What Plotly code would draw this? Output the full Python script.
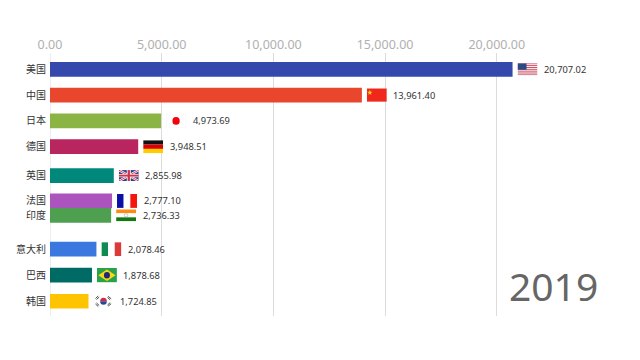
import base64
import plotly.graph_objects as go

countries = ["美国", "中国", "日本", "德国", "英国", "法国", "印度", "意大利", "巴西", "韩国"]
gdp = [20707.02, 13961.40, 4973.69, 3948.51, 2855.98, 2777.10, 2736.33, 2078.46, 1878.68, 1724.85]
# Animated rank of each bar in this frame (bars are mid-transition, hence fractions)
rank = [0, 1, 2, 3, 4.12, 5.1, 5.66, 6.97, 7.98, 8.99]
colors = ["#3449ab", "#e8472d", "#8ab545", "#b8255f", "#00897b",
          "#ab54bd", "#4f9f50", "#3a78e0", "#006b64", "#ffc400"]
x_ticks = [0, 5000, 10000, 15000, 20000]
year = "2019"


def rects(*items):
    return "".join(f'<rect x="{x}" y="{y}" width="{w}" height="{h}" fill="{c}"/>' for x, y, w, h, c in items)


us = rects((0, 0, 60, 40, "#ffffff")) + "".join(
    f'<rect x="0" y="{i*40/13:.2f}" width="60" height="{40/13:.2f}" fill="#c9455a"/>' for i in range(0, 13, 2)
) + rects((0, 0, 27, 21.5, "#2c4a86"))
cn = rects((0, 0, 60, 40, "#f0281c")) + '<polygon points="9,4 11,10 17,10 12,14 14,20 9,16 4,20 6,14 1,10 7,10" fill="#ffd21e"/>'
jp = ('<rect x="0.5" y="0.5" width="59" height="39" fill="#fff" stroke="#eeeeee"/>'
      '<circle cx="30" cy="20" r="11" fill="#f5000f"/>')
de = rects((0, 0, 60, 13.4, "#111111"), (0, 13.4, 60, 13.3, "#dd0000"), (0, 26.7, 60, 13.3, "#ffce00"))
uk = (rects((0, 0, 60, 40, "#2a3f8f"))
      + '<path d="M0,0L60,40M60,0L0,40" stroke="#fff" stroke-width="8"/>'
      + '<path d="M0,0L60,40M60,0L0,40" stroke="#d0344a" stroke-width="3"/>'
      + rects((24, 0, 12, 40, "#fff"), (0, 14, 60, 12, "#fff"), (26.5, 0, 7, 40, "#d0344a"), (0, 16.5, 60, 7, "#d0344a")))
fr = rects((0, 0, 20, 40, "#0a0fa8"), (20, 0, 20, 40, "#ffffff"), (40, 0, 20, 40, "#f5150f"))
ind = (rects((0, 0, 60, 13.3, "#ff8a12"), (0, 13.3, 60, 13.4, "#ffffff"), (0, 26.7, 60, 13.3, "#13780f"))
       + '<circle cx="30" cy="20" r="5.5" fill="none" stroke="#9aa6c8" stroke-width="2"/>')
it = rects((0, 0, 20, 40, "#0f8a50"), (20, 0, 20, 40, "#ffffff"), (40, 0, 20, 40, "#dc3a3a"))
br = (rects((0, 0, 60, 40, "#2aa24a"))
      + '<polygon points="30,4 56,20 30,36 4,20" fill="#fbd616"/>'
      + '<circle cx="30" cy="20" r="9" fill="#1c2a78"/>')
kr = (rects((0, 0, 60, 40, "#ffffff"))
      + '<path d="M20,20a10,10 0 0 1 20,0z" fill="#d8283c"/><path d="M20,20a10,10 0 0 0 20,0z" fill="#1f4aa0"/>'
      + '<path d="M6,12L14,5M9,15L17,8M44,6L53,13M42,9L50,16M6,28L14,35M9,25L17,32M44,34L53,27M42,31L50,24" '
        'stroke="#222" stroke-width="2.4"/>')
flags = [us, cn, jp, de, uk, fr, ind, it, br, kr]
flag_px_h = [12, 13.5, 14, 13, 11, 14, 12, 14, 14.5, 14]


def uri(body):
    svg = f'<svg xmlns="http://www.w3.org/2000/svg" viewBox="0 0 60 40" preserveAspectRatio="none">{body}</svg>'
    return "data:image/svg+xml;base64," + base64.b64encode(svg.encode()).decode()


W, H = 640, 360
L, T = 49.5, 53
PX_PER_UNIT = 111.9 / 5000
PX_PER_RANK = 25.8
plot_w = 537
plot_h = 263
xmax = plot_w / PX_PER_UNIT
r_top = -(69.3 - T) / PX_PER_RANK
r_bot = r_top + plot_h / PX_PER_RANK

fig = go.Figure()
fig.add_bar(
    x=gdp, y=rank, orientation="h", width=0.57,
    marker=dict(color=colors, line=dict(width=0)),
    hoverinfo="skip",
)

images = []
annotations = []
for v, r, f, fh in zip(gdp, rank, flags, flag_px_h):
    images.append(dict(
        source=uri(f), xref="x", yref="y",
        x=v + 5 / PX_PER_UNIT, y=r,
        sizex=20 / PX_PER_UNIT, sizey=fh / PX_PER_RANK,
        xanchor="left", yanchor="middle", sizing="stretch", layer="above",
    ))
    annotations.append(dict(
        x=v, y=r, xref="x", yref="y", xanchor="left", yanchor="middle",
        xshift=29.5, showarrow=False, text=f"{v:,.2f}",
        font=dict(family="Noto Sans", size=9.3, color="#333333"),
    ))
annotations.append(dict(
    xref="paper", yref="paper", x=(601 - L) / plot_w, y=1 - (285 - T) / plot_h,
    xanchor="right", yanchor="middle", showarrow=False, text=year,
    font=dict(family="Noto Sans", size=39, color="#666666"),
))

fig.update_layout(
    width=W, height=H, autosize=False,
    paper_bgcolor="#ffffff", plot_bgcolor="#ffffff",
    margin=dict(l=L, r=W - L - plot_w, t=T, b=H - T - plot_h, pad=0),
    showlegend=False, images=images, annotations=annotations,
    xaxis=dict(
        side="top", range=[0, xmax], tickmode="array", tickvals=x_ticks,
        ticktext=[f"{t:,.2f}" for t in x_ticks],
        tickfont=dict(family="Noto Sans", size=12.5, color="#b0b0b0"),
        showgrid=True, gridcolor="#dcdcdc", gridwidth=1,
        zeroline=False, showline=False, ticks="", ticklabelstandoff=1,
    ),
    yaxis=dict(
        range=[r_bot, r_top], tickmode="array", tickvals=rank, ticktext=countries,
        tickfont=dict(family="Noto Sans CJK SC", size=10, color="#333333"),
        showgrid=False, zeroline=False, showline=False, ticks="",
        ticklabelstandoff=3,
    ),
)
fig.add_shape(type="line", xref="x", yref="paper", x0=0, x1=0, y0=0, y1=1,
              line=dict(color="#dcdcdc", width=1), layer="below")
fig.write_html("out.html", config={"displayModeBar": False},
               post_script="document.body.style.margin='0';document.documentElement.style.overflow='hidden';")
